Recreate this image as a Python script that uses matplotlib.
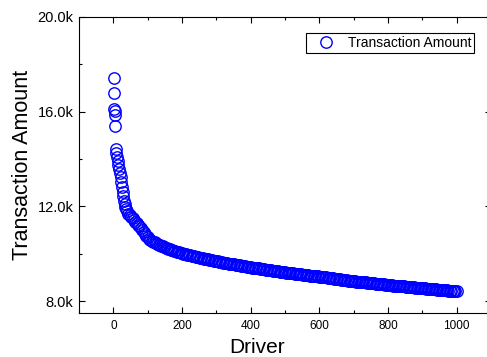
import numpy as np
import matplotlib
matplotlib.use("Agg")
import matplotlib.pyplot as plt
from matplotlib.ticker import MultipleLocator, FuncFormatter

plt.rcParams['font.family'] = ['Liberation Sans', 'DejaVu Sans']

# top earners (drivers 1-6)
top_drivers = [1, 2, 3, 4, 5, 6]
top_amounts = [17430, 16800, 16130, 16050, 15850, 15390]

# steep head of the curve, every 2nd driver from 7
head_drivers = list(range(7, 39, 2))
head_amounts = [14410, 14240, 14070, 13930, 13750, 13570, 13400, 13230,
                13050, 12840, 12630, 12420, 12250, 12100, 11980, 11880]

# long tail, every 4th driver from 40 to 1000
tail_drivers = list(range(40, 1001, 4))
tail_amounts = [
    11800, 11700, 11630, 11570, 11500, 11420, 11350, 11290, 11230, 11170,
    11100, 11010, 10920, 10840, 10770, 10700, 10640, 10590, 10550, 10510,
    10480, 10450, 10420, 10390, 10360, 10340, 10310, 10290, 10260, 10240,
    10210, 10190, 10170, 10150, 10130, 10110, 10090, 10070, 10060, 10040,
    10030, 10010, 9990, 9980, 9960, 9940, 9930, 9910, 9900, 9890,
    9870, 9860, 9850, 9830, 9820, 9810, 9800, 9780, 9770, 9760,
    9750, 9740, 9720, 9710, 9700, 9690, 9680, 9670, 9660, 9650,
    9630, 9620, 9610, 9600, 9590, 9580, 9570, 9560, 9550, 9540,
    9530, 9520, 9510, 9500, 9490, 9480, 9470, 9460, 9450, 9440,
    9430, 9420, 9410, 9400, 9400, 9390, 9380, 9370, 9360, 9350,
    9340, 9330, 9320, 9320, 9310, 9300, 9290, 9280, 9270, 9260,
    9260, 9250, 9240, 9230, 9220, 9220, 9210, 9200, 9190, 9190,
    9180, 9170, 9160, 9160, 9150, 9140, 9130, 9130, 9120, 9110,
    9110, 9100, 9090, 9080, 9080, 9070, 9060, 9060, 9050, 9050,
    9040, 9030, 9020, 9010, 9010, 9000, 8990, 8980, 8970, 8970,
    8960, 8950, 8940, 8940, 8930, 8920, 8910, 8900, 8900, 8890,
    8880, 8870, 8870, 8860, 8850, 8850, 8840, 8830, 8830, 8820,
    8810, 8810, 8800, 8790, 8790, 8780, 8780, 8770, 8760, 8760,
    8750, 8740, 8740, 8730, 8720, 8720, 8710, 8710, 8700, 8690,
    8690, 8680, 8680, 8670, 8660, 8660, 8650, 8650, 8640, 8630,
    8630, 8620, 8620, 8610, 8610, 8600, 8590, 8590, 8580, 8580,
    8570, 8570, 8560, 8560, 8550, 8550, 8540, 8540, 8530, 8530,
    8520, 8520, 8510, 8510, 8500, 8500, 8490, 8490, 8480, 8480,
    8470, 8470, 8460, 8460, 8450, 8450, 8440, 8440, 8440, 8430,
    8430,
]

drivers = np.array(top_drivers + head_drivers + tail_drivers)
amounts = np.array(top_amounts + head_amounts + tail_amounts)

fig = plt.figure(figsize=(4.87, 3.57), dpi=100)
# axes runs a little past the right edge, like the original export
ax = fig.add_axes([79 / 487, 44 / 357, 412 / 487, 296 / 357])

ax.plot(drivers, amounts, 'o', ls='none', mfc='none', mec='blue',
        ms=8.2, mew=1.0, label='Transaction Amount')

ax.set_xlim(-100, 1100)
ax.set_ylim(7500, 20000)
ax.xaxis.set_major_locator(MultipleLocator(200))
ax.xaxis.set_minor_locator(MultipleLocator(100))
ax.yaxis.set_major_locator(MultipleLocator(4000))
ax.yaxis.set_minor_locator(MultipleLocator(2000))
ax.yaxis.set_major_formatter(FuncFormatter(lambda v, p: f'{v / 1000:.1f}k'))

ax.tick_params(which='both', direction='in', top=True, right=True, width=0.8, colors='black')
ax.tick_params(which='major', length=4.5)
ax.tick_params(which='minor', length=2.5)
ax.tick_params(axis='x', labelsize=8.5, pad=5)
ax.tick_params(axis='y', labelsize=10.5, pad=4)
for s in ax.spines.values():
    s.set_linewidth(0.8)

ax.set_xlabel('Driver', fontsize=15)
ax.xaxis.set_label_coords(178 / 412, -0.085)
ax.set_ylabel('Transaction Amount', fontsize=15.5, labelpad=3)

leg = ax.legend(loc='upper right', bbox_to_anchor=(395 / 412, 280 / 296), borderaxespad=0,
                fontsize=10, fancybox=False, edgecolor='black', framealpha=1,
                borderpad=0.2, handlelength=2.5, handletextpad=0.3)
leg.get_frame().set_linewidth(0.8)

fig.savefig('out.png', dpi=100)
